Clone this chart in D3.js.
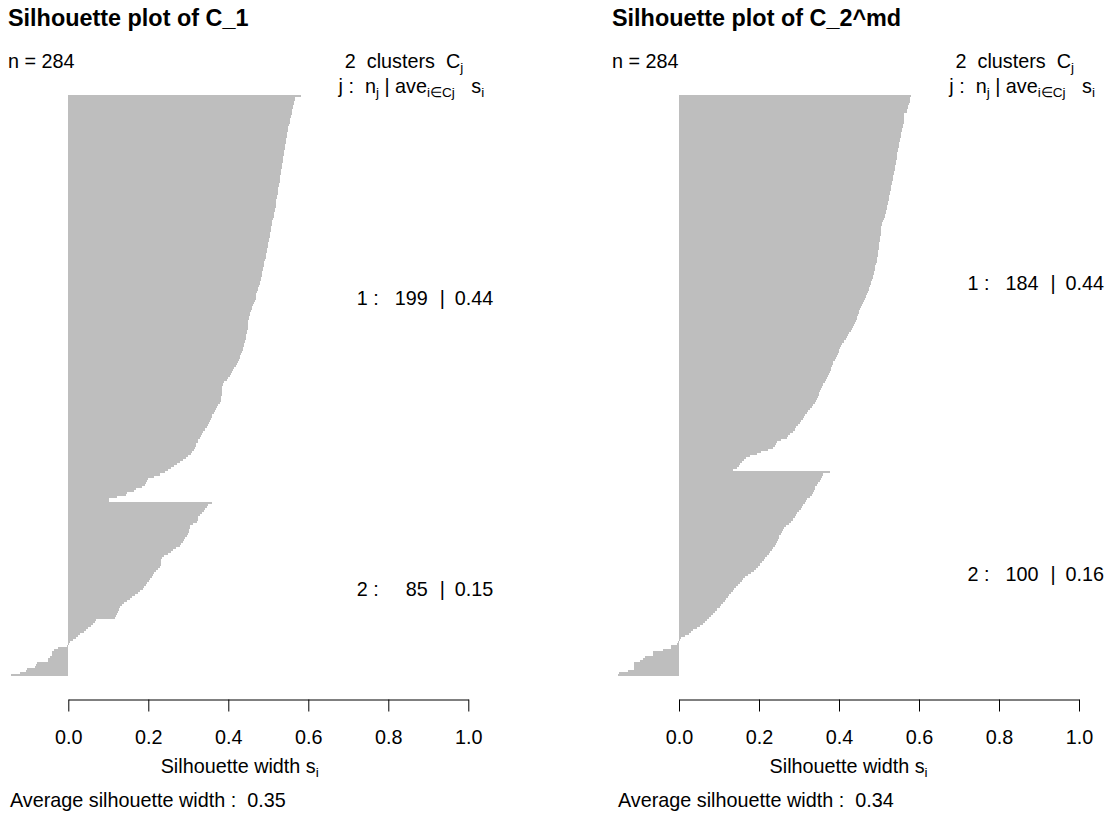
<!DOCTYPE html>
<html>
<head>
<meta charset="utf-8">
<script src="https://cdn.jsdelivr.net/npm/d3@7"></script>
<style>
  body { margin: 0; background: #fff; }
  text { font-family: "Liberation Sans", Arial, Helvetica, sans-serif; fill: #000; }
</style>
</head>
<body>
<svg id="chart" width="1113" height="824"></svg>
<script>
// Silhouette widths, sorted within each cluster (clustering C_1)
const c1Cluster1 = [
  0.582,0.567,0.566,0.564,0.563,0.562,0.561,0.560,0.559,0.558,
  0.556,0.555,0.554,0.553,0.552,0.550,0.549,0.548,0.547,0.546,
  0.546,0.545,0.544,0.543,0.542,0.542,0.541,0.540,0.539,0.538,
  0.537,0.537,0.536,0.535,0.534,0.533,0.532,0.532,0.531,0.530,
  0.529,0.528,0.528,0.527,0.526,0.525,0.524,0.523,0.523,0.522,
  0.521,0.520,0.520,0.519,0.518,0.517,0.516,0.515,0.514,0.513,
  0.512,0.510,0.509,0.508,0.507,0.506,0.506,0.505,0.504,0.503,
  0.502,0.501,0.500,0.499,0.498,0.497,0.496,0.495,0.494,0.493,
  0.492,0.490,0.489,0.488,0.487,0.486,0.485,0.484,0.483,0.482,
  0.481,0.479,0.478,0.476,0.475,0.473,0.472,0.470,0.469,0.468,
  0.466,0.464,0.462,0.460,0.458,0.456,0.455,0.454,0.452,0.451,
  0.450,0.449,0.449,0.448,0.448,0.447,0.446,0.445,0.444,0.443,
  0.442,0.440,0.439,0.437,0.436,0.434,0.432,0.430,0.428,0.426,
  0.423,0.421,0.418,0.415,0.412,0.410,0.407,0.404,0.400,0.396,
  0.390,0.386,0.385,0.385,0.384,0.384,0.383,0.382,0.382,0.381,
  0.378,0.375,0.372,0.369,0.366,0.363,0.360,0.358,0.356,0.354,
  0.351,0.348,0.346,0.341,0.337,0.333,0.331,0.328,0.325,0.323,
  0.320,0.318,0.317,0.313,0.310,0.306,0.300,0.294,0.287,0.280,
  0.272,0.263,0.256,0.249,0.242,0.228,0.214,0.200,0.197,0.195,
  0.192,0.185,0.170,0.165,0.146,0.143,0.122,0.102,0.101
];
const c1Cluster2 = [
  0.359,0.350,0.346,0.342,0.338,0.334,0.330,0.325,0.323,0.321,
  0.312,0.304,0.303,0.302,0.301,0.300,0.296,0.292,0.289,0.286,
  0.282,0.278,0.268,0.262,0.256,0.250,0.240,0.233,0.232,0.232,
  0.231,0.228,0.225,0.220,0.215,0.212,0.208,0.204,0.201,0.197,
  0.194,0.190,0.187,0.180,0.173,0.166,0.160,0.154,0.147,0.140,
  0.135,0.130,0.127,0.124,0.121,0.119,0.117,0.070,0.067,0.062,
  0.056,0.050,0.044,0.038,0.030,0.024,0.018,0.012,0.005,0.001,
  -0.004,-0.025,-0.036,-0.040,-0.042,-0.045,-0.050,-0.051,-0.079,-0.080,
  -0.083,-0.104,-0.105,-0.121,-0.143
];

// Silhouette widths, sorted within each cluster (clustering C_2^md)
const c2Cluster1 = [
  0.579,0.578,0.578,0.577,0.576,0.573,0.573,0.571,0.569,0.563,
  0.563,0.562,0.562,0.562,0.561,0.560,0.558,0.557,0.556,0.555,
  0.554,0.553,0.552,0.551,0.550,0.549,0.548,0.547,0.546,0.545,
  0.544,0.544,0.543,0.542,0.541,0.540,0.539,0.538,0.537,0.536,
  0.535,0.534,0.533,0.532,0.531,0.530,0.529,0.528,0.527,0.526,
  0.525,0.524,0.523,0.522,0.521,0.520,0.518,0.517,0.515,0.514,
  0.512,0.510,0.508,0.507,0.506,0.506,0.505,0.505,0.504,0.503,
  0.503,0.502,0.501,0.501,0.500,0.499,0.498,0.498,0.497,0.496,
  0.495,0.494,0.492,0.491,0.490,0.489,0.488,0.487,0.485,0.484,
  0.483,0.481,0.480,0.478,0.476,0.474,0.472,0.470,0.468,0.465,
  0.462,0.460,0.458,0.456,0.453,0.451,0.449,0.448,0.446,0.444,
  0.442,0.440,0.437,0.435,0.432,0.429,0.426,0.423,0.420,0.417,
  0.412,0.407,0.405,0.403,0.401,0.399,0.398,0.395,0.392,0.389,
  0.386,0.384,0.382,0.380,0.379,0.377,0.375,0.373,0.371,0.368,
  0.364,0.360,0.357,0.355,0.353,0.351,0.349,0.348,0.345,0.342,
  0.339,0.336,0.332,0.328,0.323,0.319,0.316,0.312,0.309,0.306,
  0.302,0.298,0.293,0.289,0.284,0.278,0.273,0.269,0.256,0.245,
  0.242,0.239,0.236,0.223,0.205,0.194,0.178,0.167,0.163,0.157,
  0.153,0.149,0.145,0.136
];
const c2Cluster2 = [
  0.378,0.360,0.357,0.354,0.352,0.348,0.345,0.341,0.340,0.338,
  0.335,0.332,0.328,0.321,0.317,0.314,0.311,0.308,0.304,0.300,
  0.296,0.293,0.289,0.285,0.281,0.274,0.268,0.263,0.260,0.257,
  0.254,0.251,0.249,0.247,0.245,0.242,0.239,0.236,0.232,0.228,
  0.224,0.220,0.216,0.212,0.208,0.203,0.198,0.193,0.188,0.181,
  0.172,0.164,0.161,0.158,0.153,0.147,0.142,0.138,0.134,0.130,
  0.126,0.122,0.118,0.114,0.110,0.106,0.103,0.096,0.089,0.084,
  0.079,0.075,0.070,0.064,0.059,0.053,0.046,0.036,0.031,0.026,
  0.015,0.005,0.002,-0.003,-0.005,-0.021,-0.021,-0.041,-0.064,-0.064,
  -0.085,-0.090,-0.098,-0.112,-0.112,-0.112,-0.112,-0.127,-0.150,-0.152
];

const panelTitles = ["Silhouette plot of C_1", "Silhouette plot of C_2^md"];
const panelClusters = [[c1Cluster1, c1Cluster2], [c2Cluster1, c2Cluster2]];
const xTicks = [0, 0.2, 0.4, 0.6, 0.8, 1.0];

// Layout of each panel
const panelZero = [68.3, 679];       // pixel position of s = 0
const panelTextX = [8, 612];         // left margin text
const panelAvgX = [10, 618];
const unitWidth = 400;
const barTop = 95, barBottom = 676;
const axisY = 699.5;
const fs = 19.8, fsSub = 13.6;

const svg = d3.select("#chart");
const fmt2 = d3.format(".2f");

panelTitles.forEach((title, p) => {
  const clusters = panelClusters[p];
  const rows = [];
  clusters.forEach((vals, ci) => vals.forEach(v => rows.push({ cluster: ci + 1, s: v })));
  const n = rows.length;
  const allS = rows.map(r => r.s);
  const sMin = Math.min(0, d3.min(allS));

  const x = d3.scaleLinear().domain([0, 1]).range([panelZero[p], panelZero[p] + unitWidth]);
  const y = d3.scaleBand().domain(d3.range(n)).range([barTop, barBottom]).padding(0);

  const g = svg.append("g");
  const leftEdge = x(sMin);

  // bars
  g.append("g").selectAll("rect").data(rows).join("rect")
    .attr("x", d => x(Math.min(0, d.s)))
    .attr("width", d => Math.abs(x(d.s) - x(0)))
    .attr("y", (d, i) => y(i))
    .attr("height", y.bandwidth())
    .attr("fill", "#bebebe")
    .attr("shape-rendering", "crispEdges");

  // x axis
  const axis = d3.axisBottom(x).tickValues(xTicks).tickFormat(d3.format(".1f"))
    .tickSize(12).tickSizeOuter(0).tickPadding(18.5);
  const ax = g.append("g").attr("transform", `translate(0,${axisY})`).call(axis);
  ax.selectAll("path, line").attr("stroke", "#000").attr("stroke-width", 1);
  ax.selectAll("text").attr("font-size", fs).attr("fill", "#000")
    .style("font-family", '"Liberation Sans", Arial, sans-serif');

  // title and counts
  g.append("text").attr("x", panelTextX[p]).attr("y", 26)
    .attr("font-size", 23.4).attr("font-weight", "bold").text(title);
  g.append("text").attr("x", panelTextX[p]).attr("y", 68)
    .attr("font-size", fs).text(`n = ${n}`);

  const t1 = g.append("text").attr("x", x(1) - 5).attr("y", 68)
    .attr("font-size", fs).attr("text-anchor", "end").style("white-space", "pre");
  t1.append("tspan").text(`${clusters.length}  clusters  C`);
  t1.append("tspan").attr("font-size", fsSub).attr("dy", 4).text("j");

  const t2 = g.append("text").attr("x", x(1) + 16).attr("y", 93)
    .attr("font-size", fs).attr("text-anchor", "end").style("white-space", "pre");
  t2.append("tspan").text("j :  n");
  t2.append("tspan").attr("font-size", fsSub).attr("dy", 4).text("j");
  t2.append("tspan").attr("dy", -4).text(" | ave");
  t2.append("tspan").attr("font-size", fsSub).attr("dy", 4).text("i\u2208Cj");
  t2.append("tspan").attr("dy", -4).text("   s");
  t2.append("tspan").attr("font-size", fsSub).attr("dy", 4).text("i");

  // per-cluster statistics, placed at the middle of each cluster block
  let start = 0;
  clusters.forEach((vals, ci) => {
    const mid = (y(start) + y(start + vals.length - 1) + y.bandwidth()) / 2;
    const x0 = x(0) + 288.5;
    const lab = g.append("text").attr("y", mid).attr("dy", "0.35em").attr("font-size", fs);
    lab.append("tspan").attr("x", x0).text(`${ci + 1} :`);
    lab.append("tspan").attr("x", x0 + 71).attr("text-anchor", "end").text(vals.length);
    lab.append("tspan").attr("x", x0 + 83).text("|");
    lab.append("tspan").attr("x", x0 + 98).text(fmt2(d3.mean(vals)));
    start += vals.length;
  });

  // axis title and overall mean
  const xl = g.append("text").attr("x", (leftEdge + x(1)) / 2).attr("y", 773)
    .attr("font-size", fs).attr("text-anchor", "middle");
  xl.append("tspan").text("Silhouette width s");
  xl.append("tspan").attr("font-size", fsSub).attr("dy", 4).text("i");

  g.append("text").attr("x", panelAvgX[p]).attr("y", 807)
    .attr("font-size", fs).style("white-space", "pre")
    .text(`Average silhouette width :  ${fmt2(d3.mean(allS))}`);
});
</script>
</body>
</html>
